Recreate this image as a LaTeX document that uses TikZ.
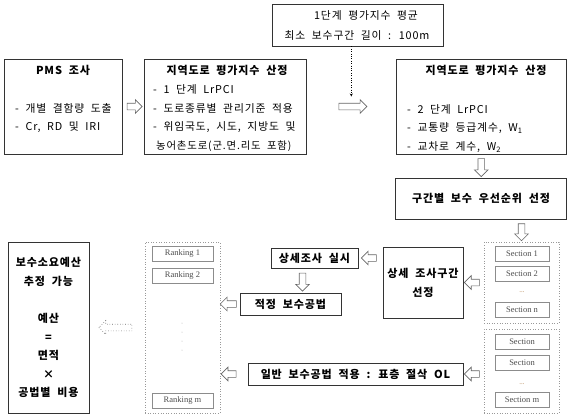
\documentclass[tikz,border=0pt]{standalone}
\usepackage{fontspec}
\setmainfont[LetterSpace=8, WordSpace=2]{Noto Sans CJK KR}
\newfontfamily\latf{Liberation Serif}
\usetikzlibrary{positioning,shapes.arrows,calc}

\tikzset{
  box/.style={draw=black!80, line width=0.8pt, inner sep=0pt},
  ttl/.style={font=\bfseries\fontsize{11}{19}\selectfont, inner sep=0pt},
  txt/.style={font=\fontsize{10.8}{13}\selectfont, inner sep=0pt},
  grp/.style={draw=gray!80, dotted, line width=0.6pt, inner sep=0pt},
  item/.style={draw=gray!90, line width=0.6pt, minimum height=15pt, inner sep=0pt,
    text=black!70, font=\latf\fontsize{8.5}{10}\selectfont},
  more/.style={text=orange!40!gray, font=\latf\fontsize{7}{8}\selectfont, inner sep=0pt},
  harrow/.style={single arrow, draw=black!60, line width=0.6pt, fill=white,
    minimum height=#1, single arrow head extend=3.5pt, inner sep=3pt},
}

\begin{document}
\begin{tikzpicture}[x=1pt, y=-1pt, >=stealth]
  \useasboundingbox (0,0) rectangle (571,418);

  % upper row
  \node[box, minimum width=171pt, minimum height=42pt] (avg) at (357.5,25) {};
  \node[txt] (avg1) at (366,15) {1단계 평가지수 평균};
  \node[txt] (avg2) at (357,35) {최소 보수구간 길이 : 100m};

  \node[box, minimum width=118pt, minimum height=95pt] (pms) at (63,106.5) {};
  \node[ttl] (pmst) at (63,70) {PMS 조사};
  \node[txt, anchor=west] (pms1) at (15,108) {- 개별 결함량 도출};
  \node[txt, anchor=west] (pms2) at (15,127) {- Cr, RD 및 IRI};

  \node[box, minimum width=162pt, minimum height=95pt] (lr1) at (225,106.5) {};
  \node[ttl] (lr1t) at (227,70) {지역도로 평가지수 산정};
  \node[txt, anchor=west] (lr1a) at (153,89) {- 1 단계 LrPCI};
  \node[txt, anchor=west] (lr1b) at (153,108) {- 도로종류별 관리기준 적용};
  \node[txt, anchor=west] (lr1c) at (153,127) {- 위임국도, 시도, 지방도 및};
  \node[txt, anchor=west, font=\fontsize{10.4}{13}\selectfont] (lr1d) at (156,146) {농어촌도로(군.면.리도 포함)};

  \node[box, minimum width=170pt, minimum height=95pt] (lr2) at (481.5,106.5) {};
  \node[ttl] (lr2t) at (486,70) {지역도로 평가지수 산정};
  \node[txt, anchor=west] (lr2a) at (407,109) {- 2 단계 LrPCI};
  \node[txt, anchor=west] (lr2b) at (407,128) {- 교통량 등급계수, W\textsubscript{1}};
  \node[txt, anchor=west] (lr2c) at (407,147) {- 교차로 계수, W\textsubscript{2}};

  \node[box, ttl, minimum width=171pt, minimum height=41pt] (prio) at (481,198.5) {구간별 보수 우선순위 선정};

  % sections
  \node[grp, minimum width=75pt, minimum height=81pt] (secA) at (521.5,282.5) {};
  \node[item, minimum width=54pt] (s1) at (522,254) {Section 1};
  \node[item, minimum width=54pt] (s2) at (522,274) {Section 2};
  \node[more] (sdots) at (522,292) {...};
  \node[item, minimum width=54pt] (sn) at (522,310) {Section n};

  \node[grp, minimum width=75pt, minimum height=84pt] (secB) at (521.5,371) {};
  \node[item, minimum width=54pt] (t1) at (522,341.5) {Section};
  \node[item, minimum width=54pt] (t2) at (522,363) {Section};
  \node[more] (tdots) at (522,384) {...};
  \node[item, minimum width=54pt] (tm) at (522,400) {Section m};

  % middle
  \node[box, ttl, minimum width=80pt, minimum height=71pt, align=center] (detsel) at (423,282.5) {상세 조사구간\\선정};
  \node[box, ttl, minimum width=87pt, minimum height=20pt] (detexe) at (314.5,258) {상세조사 실시};
  \node[box, ttl, minimum width=101pt, minimum height=22pt] (proper) at (290.5,304) {적정 보수공법};
  \node[box, ttl, minimum width=215pt, minimum height=22pt] (general) at (355.5,374) {일반 보수공법 적용 : 표층 절삭 OL};

  % ranking
  \node[grp, minimum width=75pt, minimum height=171pt] (rank) at (182.5,327.5) {};
  \node[item, minimum width=61pt] (r1) at (182.5,253.5) {Ranking 1};
  \node[item, minimum width=61pt] (r2) at (182.5,275.5) {Ranking 2};
  \foreach \y in {323,332,341,350}
    \fill[gray!60] (182,\y) circle (0.5pt);
  \node[item, minimum width=61pt] (rm) at (182.5,400.5) {Ranking m};

  % budget
  \node[box, minimum width=81pt, minimum height=171pt] (budget) at (48.5,327.5) {};
  \node[ttl, font=\bfseries\fontsize{11}{18.5}\selectfont, align=center] (budt) at (48.5,327.5)
    {보수소요예산\\추정 가능\\[19pt]예산\\=\\면적\\×\\공법별 비용};

  % arrows
  \node[harrow=15pt] (a1) at ($(pms.east)!0.5!(lr1.west)$) {};
  \node[harrow=28pt] (a2) at ($(lr1.east)!0.5!(lr2.west)$) {};
  \draw[dotted, ->] (avg.south -| a2) -- ($(a2)+(0,-10)$);
  \node[harrow=18pt, shape border rotate=270] (a3) at ($(lr2.south)!0.5!(prio.north)$) {};
  \node[harrow=17pt, shape border rotate=270] (a4) at ($(prio.south -| secA.north)!0.5!(secA.north)$) {};
  \node[harrow=15pt, shape border rotate=180] (a5) at ($(detsel.east)!0.5!(secA.west)$) {};
  \node[harrow=15pt, shape border rotate=180] (a6) at ($(detexe.east)!0.5!(detsel.west |- detexe.east)$) {};
  \node[harrow=18pt, shape border rotate=270] (a7) at ($(detexe.south)!0.5!(proper.north)$) {};
  \node[harrow=16pt, shape border rotate=180] (a8) at ($(rank.east |- proper)!0.5!(proper.west)$) {};
  \node[harrow=15pt, shape border rotate=180] (a9) at ($(general.east)!0.5!(secB.west |- general)$) {};
  \node[harrow=15pt, shape border rotate=180] (a10) at ($(rank.east |- general)+(10,0)$) {};
  \node[harrow=33pt, shape border rotate=180, dotted] (a11) at ($(budget.east)!0.5!(rank.west)$) {};
\end{tikzpicture}
\end{document}
